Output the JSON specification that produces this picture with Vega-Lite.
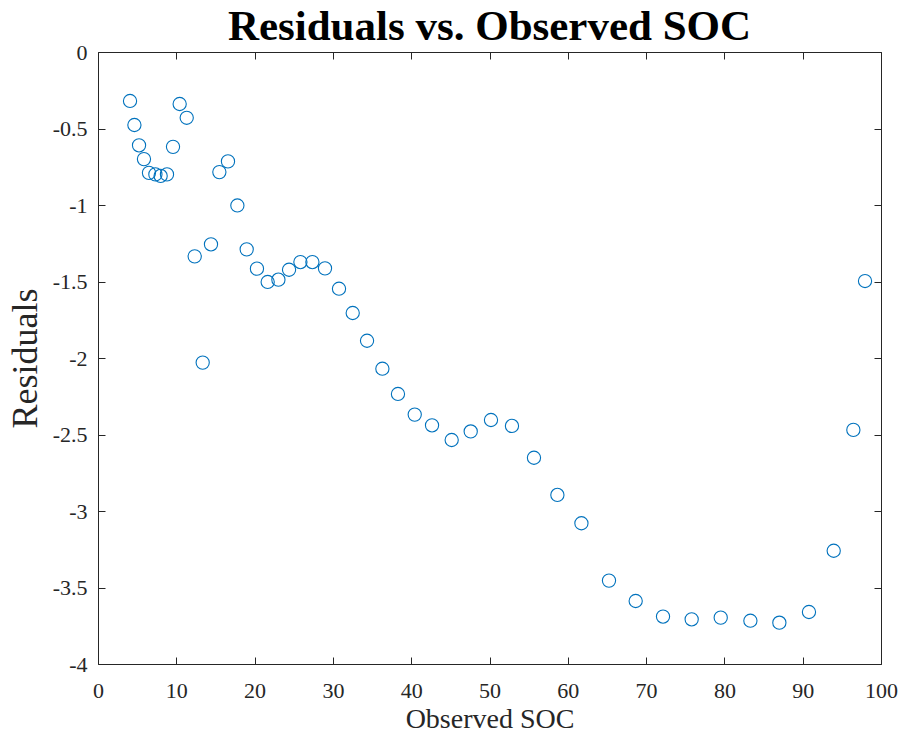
{
  "$schema": "https://vega.github.io/schema/vega-lite/v6.json",
  "width": 783,
  "height": 612,
  "autosize": "none",
  "padding": {"left": 98, "top": 52, "right": 20, "bottom": 74},
  "background": "white",
  "title": {
    "text": "Residuals vs. Observed SOC",
    "font": "Liberation Serif",
    "fontSize": 43,
    "fontWeight": "bold",
    "color": "#000000",
    "anchor": "middle",
    "offset": -8
  },
  "config": {
    "view": {"stroke": null},
    "axis": {
      "domainColor": "#262626",
      "tickColor": "#262626",
      "labelColor": "#262626",
      "titleColor": "#262626",
      "labelFont": "Liberation Serif",
      "titleFont": "Liberation Serif",
      "labelFontSize": 22,
      "titleFontSize": 28,
      "titleFontWeight": "normal",
      "labelFlush": false,
      "grid": false,
      "tickSize": -7,
      "domainWidth": 1,
      "tickWidth": 1
    }
  },
  "data": {
    "values": [
      {"soc": 4.09, "res": -0.32},
      {"soc": 4.65, "res": -0.477},
      {"soc": 5.24, "res": -0.61},
      {"soc": 5.87, "res": -0.70},
      {"soc": 6.51, "res": -0.79},
      {"soc": 7.33, "res": -0.80},
      {"soc": 8.0, "res": -0.81},
      {"soc": 8.81, "res": -0.80},
      {"soc": 9.58, "res": -0.62},
      {"soc": 10.43, "res": -0.34},
      {"soc": 11.33, "res": -0.43},
      {"soc": 12.35, "res": -1.336},
      {"soc": 13.37, "res": -2.03},
      {"soc": 14.43, "res": -1.257},
      {"soc": 15.5, "res": -0.785},
      {"soc": 16.6, "res": -0.715},
      {"soc": 17.8, "res": -1.003},
      {"soc": 18.99, "res": -1.29},
      {"soc": 20.3, "res": -1.416},
      {"soc": 21.67, "res": -1.503},
      {"soc": 23.04, "res": -1.488},
      {"soc": 24.4, "res": -1.423},
      {"soc": 25.85, "res": -1.373},
      {"soc": 27.38, "res": -1.373},
      {"soc": 28.99, "res": -1.414},
      {"soc": 30.78, "res": -1.547},
      {"soc": 32.53, "res": -1.706},
      {"soc": 34.36, "res": -1.887},
      {"soc": 36.32, "res": -2.07},
      {"soc": 38.31, "res": -2.235},
      {"soc": 40.45, "res": -2.37},
      {"soc": 42.66, "res": -2.44},
      {"soc": 45.17, "res": -2.536},
      {"soc": 47.6, "res": -2.48},
      {"soc": 50.19, "res": -2.405},
      {"soc": 52.87, "res": -2.444},
      {"soc": 55.68, "res": -2.652},
      {"soc": 58.67, "res": -2.895},
      {"soc": 61.74, "res": -3.08},
      {"soc": 65.26, "res": -3.455},
      {"soc": 68.67, "res": -3.588},
      {"soc": 72.16, "res": -3.69},
      {"soc": 75.82, "res": -3.708},
      {"soc": 79.53, "res": -3.697},
      {"soc": 83.32, "res": -3.717},
      {"soc": 87.02, "res": -3.73},
      {"soc": 90.8, "res": -3.66},
      {"soc": 93.96, "res": -3.26},
      {"soc": 96.47, "res": -2.47},
      {"soc": 97.96, "res": -1.497}
    ]
  },
  "layer": [
    {
      "mark": {"type": "point", "shape": "circle", "filled": false, "size": 175, "strokeWidth": 1.1, "color": "#0072BD", "opacity": 1},
      "encoding": {
        "x": {
          "field": "soc", "type": "quantitative",
          "scale": {"domain": [0, 100], "nice": false, "zero": false},
          "axis": {"orient": "bottom", "title": "Observed SOC", "values": [0,10,20,30,40,50,60,70,80,90,100], "labelPadding": 23, "titlePadding": 4, "labelExpr": "datum.value + ''"}
        },
        "y": {
          "field": "res", "type": "quantitative",
          "scale": {"domain": [-4, 0], "nice": false, "zero": false},
          "axis": {"orient": "left", "title": "Residuals", "titleFontSize": 36, "values": [-4,-3.5,-3,-2.5,-2,-1.5,-1,-0.5,0], "labelPadding": 18, "titlePadding": 8, "labelExpr": "datum.value + ''"}
        }
      }
    },
    {
      "mark": {"type": "point", "opacity": 0},
      "encoding": {
        "x": {
          "field": "soc", "type": "quantitative",
          "scale": {"domain": [0, 100], "nice": false, "zero": false},
          "axis": {"orient": "top", "title": null, "labels": false, "values": [0,10,20,30,40,50,60,70,80,90,100]}
        },
        "y": {
          "field": "res", "type": "quantitative",
          "scale": {"domain": [-4, 0], "nice": false, "zero": false},
          "axis": {"orient": "right", "title": null, "labels": false, "values": [-4,-3.5,-3,-2.5,-2,-1.5,-1,-0.5,0]}
        }
      }
    }
  ],
  "resolve": {"axis": {"x": "independent", "y": "independent"}}
}
